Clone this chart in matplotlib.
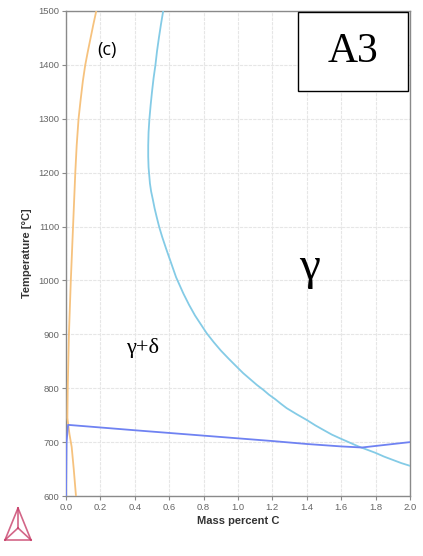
import matplotlib
matplotlib.use("Agg")
import matplotlib.pyplot as plt
from matplotlib.patches import Rectangle
from matplotlib.lines import Line2D

# Data
x_ticks = [0.0, 0.2, 0.4, 0.6, 0.8, 1.0, 1.2, 1.4, 1.6, 1.8, 2.0]
y_ticks = [600, 700, 800, 900, 1000, 1100, 1200, 1300, 1400, 1500]

delta_x = [0.058, 0.045, 0.033, 0.020, 0.013, 0.008, 0.010, 0.017, 0.028, 0.041, 0.054, 0.062, 0.073,
           0.085, 0.098, 0.112, 0.127, 0.143, 0.159, 0.176]
delta_T = [600, 650, 691, 715, 732, 745, 800, 900, 1000, 1100, 1200, 1250, 1300,
           1335, 1370, 1400, 1425, 1450, 1475, 1500]

gamma_x = [0.565, 0.552, 0.540, 0.529, 0.520, 0.509, 0.500, 0.492, 0.485, 0.480, 0.478, 0.478, 0.480, 0.488,
           0.495, 0.505, 0.515, 0.527, 0.542, 0.560, 0.582, 0.605, 0.640, 0.682, 0.715, 0.750,
           0.785, 0.818, 0.860, 0.900, 0.945, 0.992, 1.030, 1.070, 1.110, 1.147, 1.180, 1.215,
           1.250, 1.283, 1.340, 1.400, 1.450, 1.500, 1.545, 1.593, 1.650, 1.700, 1.750, 1.800,
           1.850, 1.900, 1.950, 2.000]
gamma_T = [1500, 1475, 1450, 1425, 1400, 1375, 1350, 1325, 1300, 1275, 1250, 1230, 1210, 1180,
           1165, 1150, 1134, 1118, 1099, 1080, 1059, 1038, 1006, 976, 955, 935,
           918, 902, 885, 870, 855, 840, 828, 817, 806, 797, 788, 780,
           771, 763, 752, 741, 731, 722, 714, 707, 699, 692, 686, 680,
           673, 667, 661, 656]

eut_x = [0.0, 0.003, 0.012, 0.4, 0.8, 1.2, 1.4, 1.6, 1.72, 2.0]
eut_T = [600, 700, 732, 722, 712, 702, 696.5, 692, 690, 700]

fig = plt.figure(figsize=(4.23, 5.56), dpi=100)
ax = fig.add_axes([66/423, 1-496/556, (410-66)/423, (496-11)/556])

ax.plot(delta_x, delta_T, color="#f6c27e", lw=1.3, zorder=3)
ax.plot(gamma_x, gamma_T, color="#84cbe6", lw=1.3, zorder=3)
ax.plot(eut_x, eut_T, color="#6f82f2", lw=1.3, zorder=4)

ax.set_xlim(0, 2.0)
ax.set_ylim(600, 1500)
ax.set_xticks(x_ticks)
ax.set_yticks(y_ticks)
ax.set_xticklabels([f"{v:.1f}" for v in x_ticks])
ax.set_yticklabels([str(v) for v in y_ticks])
ax.grid(True, color="#e6e6e6", lw=0.8, ls=(0, (3, 1)))
ax.set_axisbelow(True)
for s in ax.spines.values():
    s.set_color("#8a8a8a")
    s.set_linewidth(1.0)
ax.tick_params(axis="both", labelsize=6.8, colors="#8a8a8a", labelcolor="#666666", length=3, width=0.8, pad=2)
for lbl in ax.get_xticklabels() + ax.get_yticklabels():
    lbl.set_fontfamily("Liberation Sans")

ax.set_xlabel("Mass percent C", fontsize=8, fontweight="bold", color="#333333",
              family="Liberation Sans", labelpad=3)
ax.set_ylabel("Temperature [°C]", fontsize=8, fontweight="bold", color="#333333",
              family="Liberation Sans", labelpad=4)

# Annotations
fig.text(107/423, 1-50/556, "(c)", fontsize=13, family="Open Sans", ha="center", va="center", color="black")
fig.text(143/423, 1-348/556, "γ+δ", fontsize=16, family=["Liberation Serif", "DejaVu Serif"],
         ha="center", va="center", color="black")
fig.text(310/423, 1-268/556, "γ", fontsize=34, family=["Liberation Serif", "DejaVu Serif"],
         ha="center", va="center", color="black")

# A3 box
fig.patches.append(Rectangle((298/423, 1-91/556), (408-298)/423, (91-12)/556, transform=fig.transFigure,
                             facecolor="white", edgecolor="black", lw=1.0, zorder=10))
fig.text(353/423, 1-52/556, "A3", fontsize=30, family="Liberation Serif", ha="center", va="center",
         color="black", zorder=11)

# Logo (triangle)
lc = "#c8406a"
pts = {"top": (18, 508), "bl": (5, 540), "br": (31, 540), "c": (18, 528)}
def P(p):
    return (p[0]/423, 1-p[1]/556)
for a, b in [("top", "bl"), ("top", "br"), ("bl", "br"), ("top", "c"), ("bl", "c"), ("br", "c")]:
    xa, ya = P(pts[a]); xb, yb = P(pts[b])
    fig.lines.append(Line2D([xa, xb], [ya, yb], transform=fig.transFigure, color=lc, lw=1.2, alpha=0.8))

fig.savefig("out.png", dpi=100)
